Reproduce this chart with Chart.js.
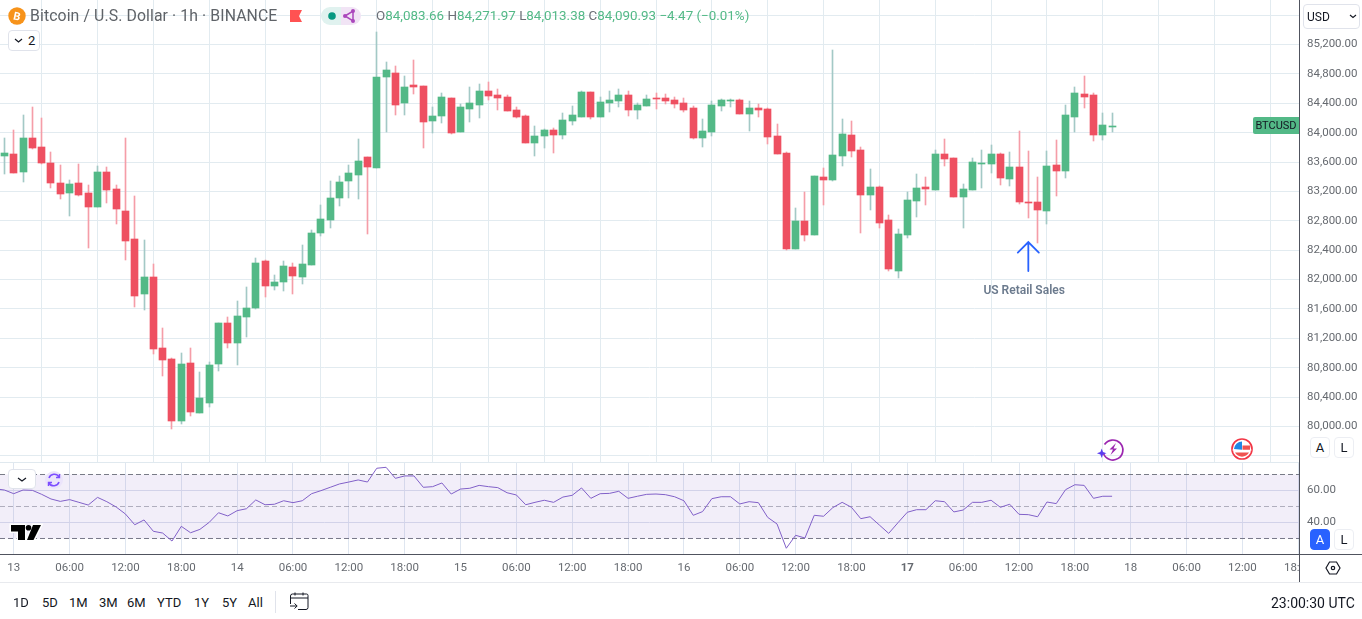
<!DOCTYPE html>
<html><head><meta charset="utf-8">
<script src="https://cdn.jsdelivr.net/npm/chart.js@4"></script>
<style>
html,body{margin:0;padding:0;background:#fff;overflow:hidden}
#root{position:relative;width:1362px;height:619px;overflow:hidden;font-family:Roboto,sans-serif}
canvas{position:absolute;left:0;display:block}
.t{position:absolute;white-space:nowrap;line-height:1}
.box{position:absolute;box-sizing:border-box;background:#fff;border:1px solid #e0e3eb;border-radius:4px}
.btn{position:absolute;box-sizing:border-box;width:20px;height:21px;border:1px solid #eceef3;border-radius:4px;background:#fff;font:13px/19px Roboto,sans-serif;text-align:center;color:#131722}
</style></head>
<body><div id="root">
<canvas id="price" width="1362" height="462" style="top:0"></canvas>
<canvas id="rsi" width="1362" height="119" style="top:463px"></canvas>
<div style="position:absolute;left:0;top:462px;width:1299px;height:1px;background:#e0e9ef"></div>
<div style="position:absolute;left:1300px;top:555px;width:62px;height:27px;background:#fff"></div>
<div style="position:absolute;left:0;top:554px;width:1362px;height:1px;background:#50535e"></div>
<div style="position:absolute;left:1299px;top:0;width:1px;height:582px;background:#50535e"></div>
<div style="position:absolute;left:0;top:582px;width:1362px;height:1px;background:#e8eaee"></div>

<div class="t" style="left:30px;top:8px;font-size:15.8px;color:#5f6368;letter-spacing:.1px">Bitcoin / U.S. Dollar · 1h · BINANCE</div>
<div class="t" id="ohlc" style="left:376px;top:9px;font-size:13.4px;color:#53b987"><span style="color:#6b6f76">O</span>84,083.66 <span style="color:#6b6f76">H</span>84,271.97 <span style="color:#6b6f76">L</span>84,013.38 <span style="color:#6b6f76">C</span>84,090.93 −4.47 (−0.01%)</div>
<div class="box" style="left:8px;top:30px;width:32px;height:21px"></div>
<div class="t" style="left:28px;top:34px;font-size:13px;color:#131722">2</div>
<div class="box" style="left:8px;top:469px;width:28px;height:20px;border-radius:4px"></div>
<div class="box" style="left:1303px;top:4px;width:57px;height:25px"></div>
<div class="t" style="left:1307px;top:11px;font-size:12px;color:#131722">USD</div>
<div class="t" style="left:1253px;top:117px;width:46px;height:17px;background:#53b987;border-radius:2px 0 0 2px;font-size:11px;line-height:17px;text-align:center;color:#131722">BTCUSD</div>
<div class="btn" style="left:1310px;top:437px">A</div>
<div class="btn" style="left:1334px;top:437px">L</div>
<div class="btn" style="left:1310px;top:529px;background:#2962ff;border-color:#2962ff;color:#fff">A</div>
<div class="btn" style="left:1334px;top:529px">L</div>

<div id="ranges"></div>
<div style="position:absolute;left:275px;top:591px;width:1px;height:22px;background:#e0e3eb"></div>
<div class="t" style="left:1271px;top:596px;font-size:14px;color:#131722">23:00:30 UTC</div>

<svg width="1362" height="619" style="position:absolute;left:0;top:0;pointer-events:none" xmlns="http://www.w3.org/2000/svg">
  <circle cx="17" cy="16" r="8.7" fill="#f7931a"/>
  <text x="17" y="20" font-family="Roboto" font-weight="700" font-size="11" fill="#fff" text-anchor="middle" transform="rotate(12 17 16)">B</text>
  <polygon points="290,10 302,10 299,16 302,22 290,22" fill="#ff5252"/>
  <path d="M341 7H330a9 9 0 0 0 0 18h11z" fill="#e0f2ef"/>
  <path d="M341 7h11a9 9 0 0 1 0 18h-11z" fill="#f1e4f5"/>
  <circle cx="332" cy="16" r="3.8" fill="#089981"/>
  <path d="M345 16L353 11V21Z" fill="none" stroke="#ab47bc" stroke-width="1.5"/>
  <circle cx="345" cy="16" r="2" fill="#ab47bc"/><circle cx="353" cy="11" r="2" fill="#ab47bc"/><circle cx="353" cy="21" r="2" fill="#ab47bc"/>
  <path d="M15 39l3.500 3 3.500-3" fill="none" stroke="#131722" stroke-width="1.200"/>
  <path d="M18 478l4 3 4-3" fill="none" stroke="#131722" stroke-width="1.200"/>
  <path d="M1350 15l3 2.500 3-2.500" fill="none" stroke="#131722" stroke-width="1.100"/>
  <circle cx="54" cy="480" r="9" fill="#ebe4fb"/>
  <path d="M49 478a5.500 5.500 0 0 1 10-1M59 482a5.500 5.500 0 0 1-10 1" fill="none" stroke="#7c4dff" stroke-width="1.600"/>
  <path d="M59.500 474v3.500h-3.500M48.500 486v-3.500h3.500" fill="none" stroke="#7c4dff" stroke-width="1.400"/>
  <path d="M11 525H25V540H18V531.500H11ZM33 525H41L33.500 540H27Z" fill="#000" stroke="#fff" stroke-width="3" paint-order="stroke"/>
  <circle cx="28.500" cy="527.800" r="2.800" fill="#000"/>
  <path d="M1104.500 444.500a10 10 0 1 1 -1 9" fill="none" stroke="#9c27b0" stroke-width="1.700"/>
  <path d="M1116 443l-6.500 6.500h3.500l-2.500 5.500 6.500-6.500h-3.500z" fill="#9c27b0"/>
  <path d="M1101.700 448.500l1.300 3.500 3.500 1.300-3.500 1.300-1.300 3.500-1.300-3.500-3.500-1.300 3.500-1.300z" fill="#5b3df0"/>
  <circle cx="1242" cy="449" r="10" fill="#fff" stroke="#f23645" stroke-width="1.700"/>
  <rect x="1242.500" y="445.500" width="7.500" height="4.500" fill="#ef5350"/>
  <path d="M1235 452.500h14a8 8 0 0 1-14 0z" fill="#ef5350"/>
  <path d="M1242 441.500a8 8 0 0 0-8 7.500l8 1z" fill="#1e88e5"/>
  <path d="M1232 450h20" stroke="#fff" stroke-width=".5"/>
  <path d="M1326 568l3.500-6h7l3.500 6-3.500 6h-7z" fill="none" stroke="#131722" stroke-width="1.200"/>
  <circle cx="1333" cy="568" r="1.700" fill="none" stroke="#131722" stroke-width="1.200"/>
  <path d="M290.500 604v-8a2 2 0 0 1 2-2h14a1.500 1.500 0 0 1 1.500 1.500v12a2 2 0 0 1-2 2h-8M290.500 598h17.500M295 592.500v3M303 592.500v3M290 606h7M294.500 603.500l2.700 2.500-2.700 2.500" fill="none" stroke="#131722" stroke-width="1"/>
</svg>
</div>
<script>
// Candles, one per hour. Hour 0 = the "13" tick.
const opens = [83682,83709,83464,83927,83805,83587,83315,83178,83315,83178,82988,83464,83233,82933,82552,81804,82035,81068,80919,80075,80864,80184,80320,80851,81409,81137,81490,81613,82253,81912,81967,82171,82035,82198,82634,82811,83110,83342,83423,83669,83519,84758,84812,84404,84649,84635,84159,84227,84472,84009,84322,84376,84567,84513,84485,84308,84227,83859,83954,84036,83968,84159,84213,84553,84213,84404,84431,84513,84308,84363,84472,84472,84445,84404,84336,83927,84009,84363,84431,84445,84254,84336,84322,83954,83723,82416,82797,82607,83396,83355,83682,83968,83764,83151,83260,82811,82117,82607,83069,83260,83219,83709,83655,83124,83219,83573,83573,83709,83369,83532,83056,83056,82933,83560,83478,84213,84526,84513,83968,84083.66];
const highs = [83927,84036,84240,84349,84199,83737,83560,83355,83573,83287,83546,83532,83287,83927,83138,82539,82212,81341,80932,81000,81068,80742,80878,81409,81490,81708,81899,82294,82266,82062,82253,82226,82471,82675,83015,83342,83410,83560,83914,83669,85370,84962,84907,84771,84989,84635,84349,84540,84472,84390,84621,84662,84689,84594,84513,84349,84240,84090,84050,84063,84268,84363,84567,84553,84485,84567,84594,84567,84404,84513,84540,84526,84485,84472,84363,84186,84431,84458,84458,84458,84431,84390,84336,84118,83737,82974,83192,83410,83519,85125,84186,84159,83805,83505,83274,82879,82688,83192,83437,83396,83764,83914,83655,83301,83655,83764,83832,83723,83737,84022,83750,83396,83750,83900,84376,84621,84771,84540,84268,84271.97];
const lows = [83437,83451,83328,83777,83573,83247,83097,82865,83138,82430,82988,83042,82756,82266,81627,81586,80987,80687,79966,80034,80143,80184,80265,80755,81068,80837,81218,81599,81763,81858,81844,81804,81940,82198,82593,82702,83001,83110,83097,82620,83519,84009,84240,84240,84526,83791,83995,84131,83982,84009,84145,84199,84445,84308,84295,84199,83859,83682,83791,83723,83914,84104,84213,84186,84213,84281,84349,84227,84186,84363,84322,84390,84336,84281,83914,83805,83954,84295,84349,84254,84022,84213,83846,83709,82403,82416,82525,82607,83015,83342,83546,83669,82634,82947,82702,82117,82021,82566,82852,83015,83219,83546,83124,82702,83219,83247,83451,83287,83274,83029,82838,82498,82756,83138,83383,84009,84336,83886,83900,84013.38];
const closes = [83723,83451,83927,83791,83587,83315,83165,83301,83151,82988,83464,83219,82961,82525,81776,82035,81055,80905,80075,80851,80197,80388,80837,81409,81137,81504,81613,82226,81912,81967,82185,82049,82212,82634,82824,83110,83328,83451,83614,83532,84758,84853,84376,84621,84621,84145,84227,84485,83995,84349,84404,84567,84499,84472,84295,84213,83859,83954,84036,83968,84172,84240,84553,84213,84417,84445,84513,84308,84376,84458,84458,84431,84390,84308,83927,84022,84376,84445,84445,84254,84336,84308,83941,83709,82416,82797,82607,83410,83355,83696,83982,83750,83151,83260,82770,82144,82620,83083,83247,83233,83709,83641,83124,83233,83600,83587,83709,83383,83532,83056,83042,82947,83546,83478,84240,84540,84485,83968,84104,84090.93];
const firstHour = -1;
const hours = opens.map((_, i) => firstHour + i);

// RSI, one reading per hour, starting one hour before the first candle.
const rsiFirstHour = -2;
const rsiValues = [61.1,60.3,58.0,60.3,60.1,57.6,54.7,53.2,54.3,52.6,50.9,55.7,53.0,49.7,45.3,38.6,41.6,34.5,33.4,28.4,37.6,33.6,35.7,40.1,46.1,44.1,47.4,48.6,54.1,51.1,51.4,53.6,52.4,53.6,58.0,59.9,62.0,64.1,65.3,66.6,65.3,73.9,74.5,67.6,69.1,69.1,62.0,62.4,64.7,57.8,60.9,61.4,63.2,62.4,61.8,58.6,57.2,51.1,52.6,53.9,52.6,55.9,57.0,61.6,55.1,58.0,58.2,59.5,55.1,56.4,57.6,57.8,57.4,56.1,53.6,44.5,46.8,54.9,56.1,56.1,51.6,53.0,52.4,43.2,39.1,23.9,32.0,30.3,44.5,43.9,49.3,52.6,49.5,42.4,43.6,38.4,33.2,39.9,46.4,48.0,48.0,53.6,53.0,46.6,47.8,52.6,52.6,53.9,49.5,51.4,45.1,44.9,43.6,52.8,51.8,60.5,63.6,63.2,55.1,56.4,56.4];
const rsiUpper = 70, rsiMiddle = 50, rsiLower = 30;

const priceTicks = [85600,85200,84800,84400,84000,83600,83200,82800,82400,82000,81600,81200,80800,80400,80000,79600];
const hiddenPriceLabels = [85600,79600];
const rsiTicks = [60,40];
const timeTickHours = [0,6,12,18,24,30,36,42,48,54,60,66,72,78,84,90,96,102,108,114,120,126,132,138];
const timeTickLabels = ["13","06:00","12:00","18:00","14","06:00","12:00","18:00","15","06:00","12:00","18:00","16","06:00","12:00","18:00","17","06:00","12:00","18:00","18","06:00","12:00","18:00"];
const rangeLabels = ["1D","5D","1M","3M","6M","YTD","1Y","5Y","All"];

const eventLabel = "US Retail Sales", eventHour = 109, eventLabelHour = 108.55, eventLabelPrice = 81838;
const arrowTipPrice = 82511, arrowTailPrice = 82117, arrowWingPrice = 82368, arrowWingHours = 1.13;

const UP = "#53b987", DOWN = "#ee5061", UP_WICK = "#a3c9c6", DOWN_WICK = "#f59da8";
const GRID = "#e2ebf0", TEXT = "#666a70", RSI_COLOR = "#8160c8", FONT = "Roboto";
const hourMin = -1.477, hourMax = 138.08;

Chart.defaults.font.family = FONT;

// TradingView draws crisp marks: snap every bar to whole pixels.
const snap = {
  id: "snap",
  afterDatasetsUpdate(chart) {
    chart.getSortedVisibleDatasetMetas().forEach(m => {
      if (m.type !== "bar") return;
      m.data.forEach(el => {
        el.x = Math.round(el.x - 0.5) + 0.5;
        const a = Math.round(el.y), b = Math.round(el.base);
        el.y = Math.min(a, b);
        el.base = Math.max(a, b) === el.y ? el.y + 1 : Math.max(a, b);
        el.height = el.base - el.y;
      });
    });
  }
};

const eventMark = {
  id: "eventMark",
  afterDatasetsDraw(chart) {
    const c = chart.ctx, x = chart.scales.x, y = chart.scales.y;
    c.save();
    c.strokeStyle = "#2962ff"; c.lineWidth = 1.8; c.lineCap = "round"; c.lineJoin = "miter";
    c.beginPath();
    c.moveTo(x.getPixelForValue(eventHour), y.getPixelForValue(arrowTailPrice));
    c.lineTo(x.getPixelForValue(eventHour), y.getPixelForValue(arrowTipPrice));
    c.moveTo(x.getPixelForValue(eventHour - arrowWingHours), y.getPixelForValue(arrowWingPrice));
    c.lineTo(x.getPixelForValue(eventHour), y.getPixelForValue(arrowTipPrice));
    c.lineTo(x.getPixelForValue(eventHour + arrowWingHours), y.getPixelForValue(arrowWingPrice));
    c.stroke();
    c.fillStyle = "#6b7a8d"; c.font = "600 12px " + FONT; c.textAlign = "center"; c.textBaseline = "middle";
    c.fillText(eventLabel, x.getPixelForValue(eventLabelHour), y.getPixelForValue(eventLabelPrice));
    c.restore();
  }
};

const noPad = s => { s.paddingTop = 0; s.paddingBottom = 0; s.paddingLeft = 0; s.paddingRight = 0; };

function xAxis(showLabels) {
  return {
    type: "linear", min: hourMin, max: hourMax, offset: false,
    afterBuildTicks: s => { s.ticks = timeTickHours.map(v => ({ value: v })); },
    afterFit: s => { s.height = showLabels ? 28 : 0; noPad(s); },
    grid: { color: showLabels ? "#dfe6f0" : GRID, drawTicks: false },
    border: { display: false },
    ticks: showLabels ? {
      display: true, autoSkip: false, maxRotation: 0, minRotation: 0, padding: 7,
      color: TEXT,
      font: ctx => ({ family: FONT, size: 11.500, weight: ctx.tick && ctx.tick.value === 96 ? "700" : "400" }),
      callback: v => timeTickLabels[timeTickHours.indexOf(v)] ?? ""
    } : { display: false }
  };
}
function yAxis(ticks, fmt, min, max) {
  return {
    type: "linear", position: "right", min, max,
    afterBuildTicks: s => { s.ticks = ticks.map(v => ({ value: v })); },
    afterFit: s => { s.width = 63; noPad(s); },
    grid: { color: max > 1000 ? GRID : "#dce0ee", drawTicks: false },
    border: { display: false },
    ticks: { autoSkip: false, padding: 8, color: TEXT, font: { family: FONT, size: 11.500 }, callback: fmt }
  };
}
const base = { responsive: false, animation: false, devicePixelRatio: 1, events: [],
  layout: { padding: 0 }, plugins: { legend: { display: false }, tooltip: { enabled: false } } };

new Chart(document.getElementById("price"), {
  type: "bar",
  data: { datasets: [
    { label: "Body", data: hours.map((h, i) => ({ x: h, y: [opens[i], closes[i]] })),
      backgroundColor: hours.map((_, i) => closes[i] >= opens[i] ? UP : DOWN),
      barThickness: 7, minBarLength: 1, grouped: false, borderWidth: 0 },
    { label: "Wick", data: hours.map((h, i) => ({ x: h, y: [lows[i], highs[i]] })),
      backgroundColor: hours.map((_, i) => closes[i] >= opens[i] ? UP_WICK : DOWN_WICK),
      barThickness: 1, minBarLength: 1, grouped: false, borderWidth: 0 }
  ] },
  options: { ...base, scales: {
    x: xAxis(false),
    y: yAxis(priceTicks, v => hiddenPriceLabels.includes(v) ? "" :
      v.toLocaleString("en-US", { minimumFractionDigits: 2, maximumFractionDigits: 2 }), 79516.6, 85805.8)
  } },
  plugins: [snap, eventMark]
});

const level = (v, extra) => ({
  type: "line", data: [{ x: hourMin, y: v }, { x: hourMax, y: v }],
  pointRadius: 0, borderWidth: 1, ...extra
});
new Chart(document.getElementById("rsi"), {
  type: "line",
  data: { datasets: [
    { label: "RSI", data: rsiValues.map((v, i) => ({ x: rsiFirstHour + i, y: v })),
      borderColor: RSI_COLOR, borderWidth: 1, pointRadius: 0, tension: 0, fill: false },
    level(rsiUpper, { label: "Upper", borderColor: "#787b86", borderDash: [5, 3],
      fill: { value: rsiLower }, backgroundColor: "rgba(126,87,194,0.1)" }),
    level(rsiMiddle, { label: "Middle", borderColor: "rgba(120,123,134,0.55)", borderDash: [5, 3], fill: false }),
    level(rsiLower, { label: "Lower", borderColor: "#787b86", borderDash: [5, 3], fill: false })
  ] },
  options: { ...base, scales: {
    x: xAxis(true),
    y: yAxis(rsiTicks, v => v.toFixed(2), 20.31, 77.19)
  } }
});

const rangeX = [13, 42, 69, 99, 127, 157, 194, 222, 248];
const rangesEl = document.getElementById("ranges");
rangeLabels.forEach((t, i) => {
  const d = document.createElement("div");
  d.className = "t"; d.textContent = t;
  d.style.cssText = `left:${rangeX[i]}px;top:596px;font-size:13px;color:#131722`;
  rangesEl.appendChild(d);
});
</script>
</body></html>
